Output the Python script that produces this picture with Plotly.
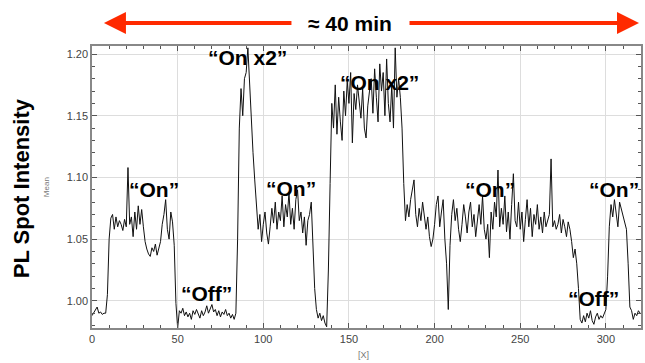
import plotly.graph_objects as go

# ---- data ----
x_start = 0
intensity = [
    0.988, 0.990, 0.993, 0.995, 0.990, 0.991, 0.989, 0.990, 0.990, 1.005,
    1.050, 1.067, 1.070, 1.058, 1.068, 1.060, 1.065, 1.062, 1.057, 1.066,
    1.060, 1.108, 1.062, 1.068, 1.052, 1.072, 1.058, 1.077, 1.062, 1.074,
    1.060, 1.048, 1.042, 1.038, 1.036, 1.043, 1.040, 1.046, 1.037, 1.044,
    1.048, 1.062, 1.070, 1.082, 1.058, 1.050, 1.072, 1.064, 1.045, 0.998,
    0.978, 0.992, 0.990, 0.994, 0.988, 0.991, 0.987, 0.990, 0.985, 0.992,
    0.989, 0.993, 0.990, 0.986, 0.992, 0.988, 0.991, 0.996, 0.990, 0.994,
    0.997, 0.991, 0.993, 0.988, 0.992, 0.987, 0.991, 0.989, 0.993, 0.988,
    0.990, 0.986, 0.989, 0.985, 0.990, 1.050, 1.140, 1.172, 1.150, 1.180,
    1.185, 1.205, 1.175, 1.150, 1.120, 1.098, 1.080, 1.058, 1.070, 1.048,
    1.062, 1.072, 1.055, 1.046, 1.060, 1.075, 1.063, 1.080, 1.058, 1.072,
    1.065, 1.085, 1.060, 1.078, 1.068, 1.088, 1.062, 1.075, 1.058, 1.082,
    1.090, 1.065, 1.072, 1.055, 1.068, 1.045, 1.065, 1.070, 1.080, 1.050,
    1.010, 0.993, 0.986, 0.990, 0.984, 0.988, 0.982, 0.979, 1.025, 1.095,
    1.160, 1.140, 1.175, 1.135, 1.165, 1.145, 1.130, 1.170, 1.150, 1.178,
    1.160, 1.185, 1.128, 1.168, 1.155, 1.175, 1.162, 1.148, 1.172, 1.140,
    1.132, 1.158, 1.170, 1.180, 1.152, 1.188, 1.165, 1.145, 1.192, 1.170,
    1.185, 1.150, 1.196, 1.160, 1.145, 1.175, 1.140, 1.205, 1.165, 1.180,
    1.165, 1.140, 1.095, 1.065, 1.078, 1.068, 1.082, 1.090, 1.098, 1.070,
    1.060, 1.075, 1.065, 1.080, 1.070, 1.058, 1.068, 1.052, 1.044, 1.050,
    1.062, 1.078, 1.085, 1.060, 1.072, 1.082, 1.050, 1.030, 0.993, 1.045,
    1.070, 1.082, 1.065, 1.075, 1.058, 1.048, 1.062, 1.078, 1.068, 1.055,
    1.072, 1.080, 1.060, 1.070, 1.052, 1.068, 1.078, 1.062, 1.085, 1.058,
    1.050, 1.062, 1.035, 1.072, 1.058, 1.080, 1.068, 1.106, 1.060, 1.075,
    1.062, 1.085, 1.056, 1.072, 1.050, 1.078, 1.103, 1.065, 1.060, 1.080,
    1.058, 1.072, 1.048, 1.066, 1.082, 1.060, 1.075, 1.052, 1.070, 1.062,
    1.078, 1.058, 1.068, 1.055, 1.072, 1.060, 1.065, 1.070, 1.115, 1.060,
    1.065, 1.058, 1.062, 1.070, 1.055, 1.066, 1.060, 1.052, 1.064, 1.058,
    1.048, 1.035, 1.042, 1.030, 1.010, 0.985, 0.982, 0.988, 0.983, 0.990,
    0.986, 0.992, 0.984, 0.981, 0.987, 0.990, 0.985, 0.988, 0.986, 0.990,
    0.993, 1.020, 1.060, 1.078, 1.068, 1.082, 1.072, 1.060, 1.080, 1.075,
    1.070, 1.065, 1.058, 1.030, 0.995, 0.992, 0.985, 0.990, 0.988, 0.992,
    0.990,
]
frames = list(range(x_start, x_start + len(intensity)))

state_labels = ["\u201cOn\u201d", "\u201cOff\u201d", "\u201cOn x2\u201d", "\u201cOn\u201d",
                "\u201cOn x2\u201d", "\u201cOn\u201d", "\u201cOff\u201d", "\u201cOn\u201d"]
state_x = [36, 67, 90.7, 116, 168, 232.5, 293, 305]
state_y = [1.090, 1.006, 1.1975, 1.091, 1.177, 1.090, 1.002, 1.090]

x_ticks = [0, 50, 100, 150, 200, 250, 300]
y_ticks = [1.00, 1.05, 1.10, 1.15, 1.20]

FONT = "Liberation Sans, Arial"

fig = go.Figure()
fig.add_trace(go.Scatter(x=frames, y=intensity, mode="lines",
                         line=dict(color="#111111", width=1), hoverinfo="skip"))

for t, xx, yy in zip(state_labels, state_x, state_y):
    fig.add_annotation(x=xx, y=yy, text="<b>" + t + "</b>", showarrow=False,
                       font=dict(family=FONT, size=21, color="black"),
                       xanchor="center", yanchor="middle")

# title + red double arrow
TY = (328 - 23) / 282
fig.add_annotation(x=(351 - 92) / 551, y=TY, xref="paper", yref="paper",
                   text="<b>\u2248 40 min</b>", showarrow=False,
                   font=dict(family=FONT, size=21, color="black"),
                   xanchor="center", yanchor="middle")
red = "#ff2a00"
fig.add_annotation(x=(104 - 92) / 551, y=TY, xref="paper", yref="paper",
                   ax=189, ay=0, axref="pixel", ayref="pixel", text="",
                   showarrow=True, arrowhead=2, arrowsize=1.1, arrowwidth=4, arrowcolor=red)
fig.add_annotation(x=(641 - 92) / 551, y=TY, xref="paper", yref="paper",
                   ax=-231, ay=0, axref="pixel", ayref="pixel", text="",
                   showarrow=True, arrowhead=2, arrowsize=1.1, arrowwidth=4, arrowcolor=red)

# y-axis titles
fig.add_annotation(x=-71 / 551, y=(328 - 188) / 282, xref="paper", yref="paper",
                   text="<b>PL Spot Intensity</b>", showarrow=False, textangle=-90,
                   xanchor="center", yanchor="middle",
                   font=dict(family=FONT, size=22, color="black"))
fig.add_annotation(x=-46 / 551, y=0.5, xref="paper", yref="paper",
                   text="Mean", showarrow=False, textangle=-90,
                   xanchor="center", yanchor="middle",
                   font=dict(family=FONT, size=8, color="#777777"))
fig.add_annotation(x=(364 - 92) / 551, y=-27 / 282, xref="paper", yref="paper",
                   text="[X]", showarrow=False, yanchor="middle", xanchor="center",
                   font=dict(family=FONT, size=9, color="#777777"))

axis_common = dict(showline=True, linecolor="#888888", linewidth=1.5, mirror="ticks",
                   ticks="inside", ticklen=5, tickcolor="#555555",
                   showgrid=True, gridcolor="#dddddd", gridwidth=1, zeroline=False,
                   tickfont=dict(family=FONT, size=11, color="#444444"))

fig.update_xaxes(range=[0, 320.5], tickvals=x_ticks,
                 minor=dict(ticks="inside", dtick=10, tick0=0, ticklen=3,
                            tickcolor="#555555", showgrid=False),
                 **axis_common)
fig.update_yaxes(range=[0.978, 1.2065], tickvals=y_ticks, tickformat=".2f",
                 minor=dict(ticks="inside", dtick=0.01, tick0=0, ticklen=3,
                            tickcolor="#555555", showgrid=False),
                 **axis_common)

fig.update_layout(width=645, height=363, margin=dict(l=92, r=2, t=46, b=35),
                  paper_bgcolor="white", plot_bgcolor="white", showlegend=False)

fig.write_html("out.html")
